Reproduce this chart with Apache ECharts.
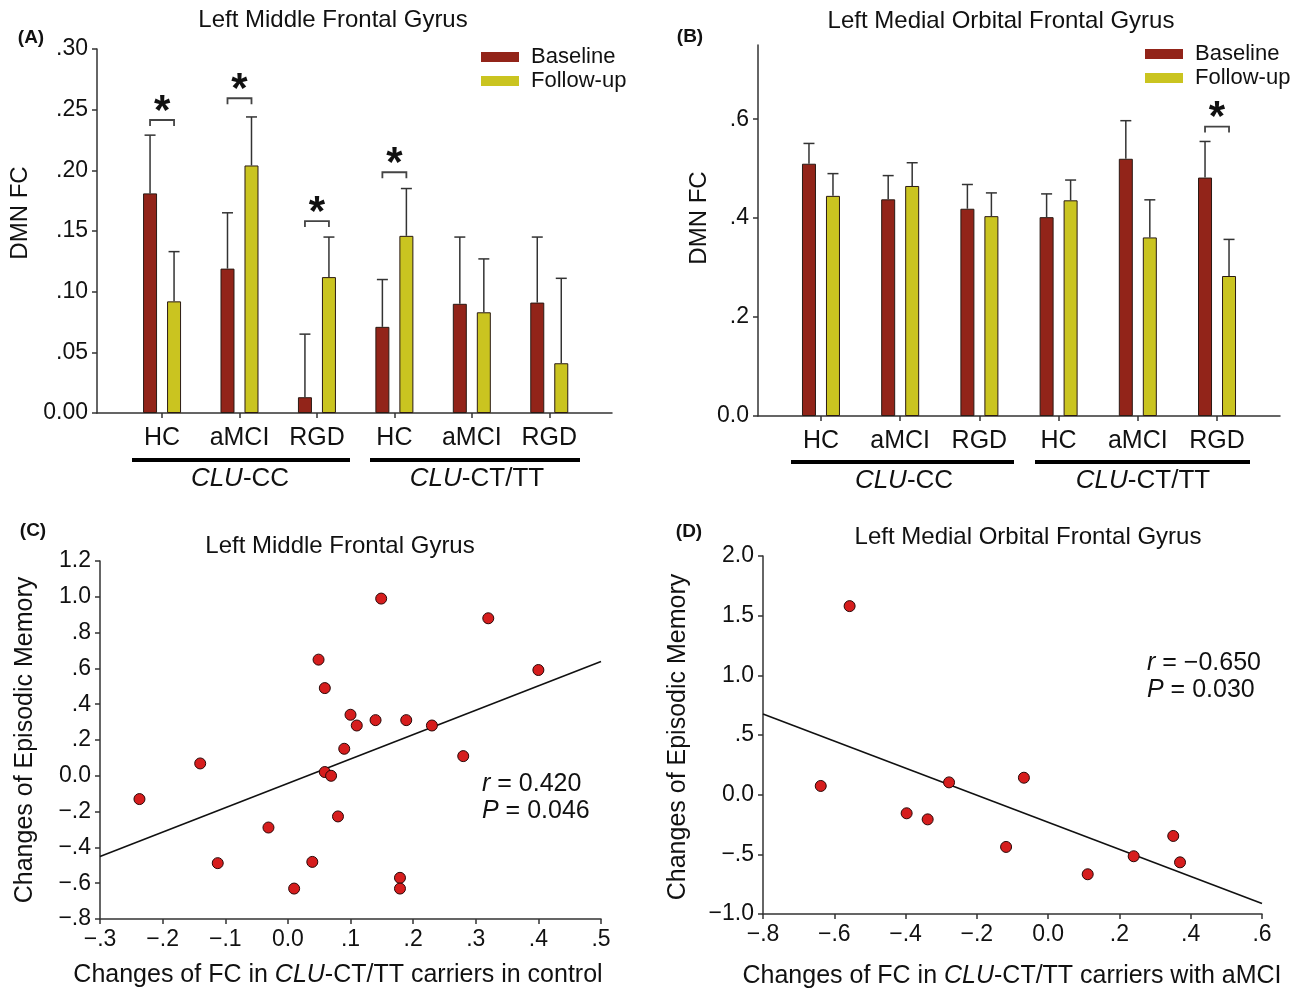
<!DOCTYPE html>
<html><head><meta charset="utf-8">
<script src="https://cdn.jsdelivr.net/npm/echarts@6/dist/echarts.min.js"></script>
<style>html,body{margin:0;padding:0;background:#fff}#c{width:1298px;height:991px}</style>
</head><body><div id="c"></div><script>
// ---------- DATA ----------
const groups = ['HC','aMCI','RGD','HC','aMCI','RGD'];
const groupIndex = [0,1,2,3,4,5];
// Panel A: Left Middle Frontal Gyrus
const mfgBaseline    = [0.181, 0.119, 0.013, 0.071, 0.090, 0.091];
const mfgBaselineErr = [0.048, 0.046, 0.052, 0.039, 0.055, 0.054];
const mfgFollowup    = [0.092, 0.204, 0.112, 0.146, 0.083, 0.041];
const mfgFollowupErr = [0.041, 0.040, 0.033, 0.039, 0.044, 0.070];
const mfgSigGroups   = [0, 1, 2, 3];
const mfgSigLevel    = [0.2415, 0.2594, 0.1582, 0.1984];
// Panel B: Left Medial Orbital Frontal Gyrus
const mofgBaseline    = [0.510, 0.438, 0.419, 0.402, 0.520, 0.482];
const mofgBaselineErr = [0.041, 0.048, 0.049, 0.047, 0.077, 0.073];
const mofgFollowup    = [0.445, 0.465, 0.404, 0.436, 0.361, 0.283];
const mofgFollowupErr = [0.045, 0.047, 0.047, 0.041, 0.076, 0.074];
const mofgSigGroups   = [5];
const mofgSigLevel    = [0.585];
// Panel C scatter
const cX = [-0.237,-0.140,-0.112,-0.031,0.010,0.039,0.049,0.059,0.059,0.069,0.080,0.090,0.100,0.110,0.140,0.149,0.179,0.179,0.189,0.230,0.280,0.320,0.400];
const cY = [-0.130,0.069,-0.488,-0.289,-0.630,-0.481,0.649,0.490,0.021,0.000,-0.227,0.151,0.341,0.281,0.311,0.990,-0.570,-0.630,0.311,0.281,0.110,0.880,0.591];
const cFitX = [-0.3, 0.5];
const cFitY = [-0.451, 0.639];
// Panel D scatter
const dX = [-0.638,-0.557,-0.397,-0.338,-0.278,-0.118,-0.068,0.111,0.240,0.351,0.370];
const dY = [0.073,1.580,-0.156,-0.207,0.103,-0.438,0.142,-0.667,-0.516,-0.346,-0.567];
const dFitX = [-0.8, 0.6];
const dFitY = [0.675, -0.913];
// Tick values and labels
const aYTicks = [0, 0.05, 0.10, 0.15, 0.20, 0.25, 0.30];
const aYLabels = ['0.00', '.05', '.10', '.15', '.20', '.25', '.30'];
const bYTicks = [0, 0.2, 0.4, 0.6];
const bYLabels = ['0.0', '.2', '.4', '.6'];
const cXTicks = [-0.3,-0.2,-0.1,0,0.1,0.2,0.3,0.4,0.5];
const cXLabels = ['\u2212.3','\u2212.2','\u2212.1','0.0','.1','.2','.3','.4','.5'];
const cYTicks = [-0.8,-0.6,-0.4,-0.2,0,0.2,0.4,0.6,0.8,1.0,1.2];
const cYLabels = ['\u2212.8','\u2212.6','\u2212.4','\u2212.2','0.0','.2','.4','.6','.8','1.0','1.2'];
const dXTicks = [-0.8,-0.6,-0.4,-0.2,0,0.2,0.4,0.6];
const dXLabels = ['\u2212.8','\u2212.6','\u2212.4','\u2212.2','0.0','.2','.4','.6'];
const dYTicks = [-1.0,-0.5,0,0.5,1.0,1.5,2.0];
const dYLabels = ['\u22121.0','\u2212.5','0.0','.5','1.0','1.5','2.0'];

// ---------- STYLE ----------
const FF = '"Liberation Sans", Arial, Helvetica, sans-serif';
const RED = '#922419', YEL = '#cac420', INK = '#111';
const AX = '#333';
const barW = 14, gapPx = 10;
const off = (barW + gapPx) / 2;

function lookup(ticks, labels) {
  return function (v) {
    let best = 0, bd = Infinity;
    ticks.forEach((t, i) => { const d = Math.abs(t - v); if (d < bd) { bd = d; best = i; } });
    return labels[best];
  };
}
function valueAxis(gi, min, max, ticks, labels, extra) {
  return Object.assign({
    type: 'value', gridIndex: gi, min: min, max: max,
    axisLine: { show: true, onZero: false, lineStyle: { color: AX, width: 1.5 } },
    axisTick: { show: true, length: 5, customValues: ticks, lineStyle: { color: AX, width: 1.5 } },
    axisLabel: { customValues: ticks, formatter: lookup(ticks, labels), fontSize: 23, fontFamily: FF, color: INK, margin: 9 },
    splitLine: { show: false }
  }, extra || {});
}
function catAxis(gi, min, max) {
  return {
    type: 'value', gridIndex: gi, min: min, max: max,
    axisLine: { show: true, onZero: false, lineStyle: { color: AX, width: 1.5 } },
    axisTick: { show: true, length: 5, customValues: groupIndex, lineStyle: { color: AX, width: 1.5 } },
    axisLabel: { customValues: groupIndex, formatter: lookup(groupIndex, groups), fontSize: 25, fontFamily: FF, color: INK, margin: 13 },
    splitLine: { show: false }
  };
}
function errSeries(name, axisI, means, errs, sign) {
  return {
    type: 'custom', name: name, xAxisIndex: axisI, yAxisIndex: axisI, z: 5,
    data: means.map((m, i) => [groupIndex[i], m, m + errs[i]]),
    encode: { x: 0, y: 1 },
    renderItem: function (params, api) {
      const p1 = api.coord([api.value(0), api.value(1)]);
      const p2 = api.coord([api.value(0), api.value(2)]);
      const cx = p1[0] + sign * off;
      const st = { stroke: '#333', lineWidth: 1.5 };
      return { type: 'group', children: [
        { type: 'line', shape: { x1: cx, y1: p1[1], x2: cx, y2: p2[1] }, style: st },
        { type: 'line', shape: { x1: cx - 5.5, y1: p2[1], x2: cx + 5.5, y2: p2[1] }, style: st }
      ] };
    }
  };
}
function sigSeries(axisI, gs, lv) {
  return {
    type: 'custom', name: 'sig' + axisI, xAxisIndex: axisI, yAxisIndex: axisI, z: 6,
    data: gs.map((g, i) => [g, lv[i]]),
    encode: { x: 0, y: 1 },
    renderItem: function (params, api) {
      const p = api.coord([api.value(0), api.value(1)]);
      const l = p[0] - off, r = p[0] + off;
      return { type: 'group', children: [
        { type: 'polyline', shape: { points: [[l, p[1] + 6], [l, p[1]], [r, p[1]], [r, p[1] + 6]] },
          style: { stroke: '#444', lineWidth: 1.8, fill: null } },
        { type: 'text', x: p[0], y: p[1] - 8,
          style: { text: '*', fontSize: 42, fontWeight: 'bold', fontFamily: FF, fill: INK, align: 'center', verticalAlign: 'middle' } }
      ] };
    }
  };
}
function barSeries(name, axisI, vals, color) {
  return {
    type: 'bar', name: name, xAxisIndex: axisI, yAxisIndex: axisI,
    data: vals.map((v, i) => [groupIndex[i], v]),
    barWidth: barW, barGap: (gapPx / barW * 100) + '%',
    itemStyle: { color: color, borderColor: '#2a1a14', borderWidth: 1 },
    emphasis: { disabled: true }
  };
}
function scatterSeries(axisI, xs, ys) {
  return {
    type: 'scatter', xAxisIndex: axisI, yAxisIndex: axisI, z: 4,
    data: xs.map((x, i) => [x, ys[i]]), symbolSize: 11,
    itemStyle: { color: '#d61d1d', borderColor: '#2a0808', borderWidth: 1, opacity: 1 }
  };
}
function fitSeries(axisI, xs, ys) {
  return {
    type: 'line', xAxisIndex: axisI, yAxisIndex: axisI, z: 3, symbol: 'none',
    data: xs.map((x, i) => [x, ys[i]]),
    lineStyle: { color: '#111', width: 1.6 }
  };
}
const T = (x, y, text, size, extra) => ({
  type: 'text', x: x, y: y,
  style: Object.assign({ text: text, fontSize: size, fontFamily: FF, fill: INK, align: 'center', verticalAlign: 'middle' }, extra || {})
});
const richItal = (size) => ({ i: { fontSize: size, fontFamily: FF, fontStyle: 'italic', fill: INK }, n: { fontSize: size, fontFamily: FF, fill: INK } });
const RT = (x, y, text, size, align, rot) => ({
  type: 'text', x: x, y: y, rotation: rot || 0,
  style: { text: text, rich: richItal(size), fontSize: size, fontFamily: FF, fill: INK, align: align || 'center', verticalAlign: 'middle' }
});
const bar = (x1, x2, y) => ({ type: 'rect', shape: { x: x1, y: y - 2, width: x2 - x1, height: 4 }, style: { fill: '#000' } });

const legendBase = {
  data: ['Baseline', 'Follow-up'], orient: 'vertical', icon: 'rect', padding: 0,
  itemWidth: 38, itemHeight: 10, itemGap: 2, selectedMode: false,
  itemStyle: { borderWidth: 0 },
  textStyle: { fontSize: 22, fontFamily: FF, color: INK, padding: [0, 0, 0, 7] }
};

const option = {
  animation: false,
  backgroundColor: '#fff',
  grid: [
    { left: 97, top: 49, width: 515, height: 364 },
    { left: 758, top: 45, width: 522, height: 371 },
    { left: 100, top: 561, width: 501, height: 358 },
    { left: 763, top: 556, width: 499, height: 358 }
  ],
  xAxis: [
    catAxis(0, -0.84, 5.81),
    catAxis(1, -0.795, 5.795),
    valueAxis(2, -0.3, 0.5, cXTicks, cXLabels, {}),
    valueAxis(3, -0.8, 0.6, dXTicks, dXLabels, {})
  ],
  yAxis: [
    valueAxis(0, 0, 0.30, aYTicks, aYLabels),
    valueAxis(1, 0, 0.75, bYTicks, bYLabels),
    valueAxis(2, -0.8, 1.2, cYTicks, cYLabels),
    valueAxis(3, -1.0, 2.0, dYTicks, dYLabels)
  ],
  legend: [
    Object.assign({}, legendBase, { left: 481, top: 46 }),
    Object.assign({}, legendBase, { left: 1145, top: 43 })
  ],
  series: [
    barSeries('Baseline', 0, mfgBaseline, RED),
    barSeries('Follow-up', 0, mfgFollowup, YEL),
    errSeries('errA1', 0, mfgBaseline, mfgBaselineErr, -1),
    errSeries('errA2', 0, mfgFollowup, mfgFollowupErr, 1),
    sigSeries(0, mfgSigGroups, mfgSigLevel),
    barSeries('Baseline', 1, mofgBaseline, RED),
    barSeries('Follow-up', 1, mofgFollowup, YEL),
    errSeries('errB1', 1, mofgBaseline, mofgBaselineErr, -1),
    errSeries('errB2', 1, mofgFollowup, mofgFollowupErr, 1),
    sigSeries(1, mofgSigGroups, mofgSigLevel),
    fitSeries(2, cFitX, cFitY),
    scatterSeries(2, cX, cY),
    fitSeries(3, dFitX, dFitY),
    scatterSeries(3, dX, dY)
  ],
  graphic: [
    T(31, 38, '(A)', 19, { fontWeight: 'bold' }),
    T(690, 37, '(B)', 19, { fontWeight: 'bold' }),
    T(33, 531, '(C)', 19, { fontWeight: 'bold' }),
    T(689, 532, '(D)', 19, { fontWeight: 'bold' }),
    T(333, 20, 'Left Middle Frontal Gyrus', 24),
    T(1001, 21, 'Left Medial Orbital Frontal Gyrus', 24),
    T(340, 546, 'Left Middle Frontal Gyrus', 24),
    T(1028, 537, 'Left Medial Orbital Frontal Gyrus', 24),
    Object.assign(T(20, 213, 'DMN FC', 24), { rotation: Math.PI / 2 }),
    Object.assign(T(699, 218, 'DMN FC', 24), { rotation: Math.PI / 2 }),
    Object.assign(T(25, 740, 'Changes of Episodic Memory', 25), { rotation: Math.PI / 2 }),
    Object.assign(T(678, 737, 'Changes of Episodic Memory', 25), { rotation: Math.PI / 2 }),
    bar(132, 350, 460), bar(370, 580, 460),
    bar(791, 1014, 462), bar(1035, 1250, 462),
    RT(240, 479, '{i|CLU}{n|-CC}', 26),
    RT(477, 479, '{i|CLU}{n|-CT/TT}', 26),
    RT(904, 481, '{i|CLU}{n|-CC}', 26),
    RT(1143, 481, '{i|CLU}{n|-CT/TT}', 26),
    RT(338, 975, '{n|Changes of FC in }{i|CLU}{n|-CT/TT carriers in control}', 25),
    RT(1012, 976, '{n|Changes of FC in }{i|CLU}{n|-CT/TT carriers with aMCI}', 25),
    RT(482, 784, '{i|r}{n| = 0.420}', 25, 'left'),
    RT(482, 811, '{i|P}{n| = 0.046}', 25, 'left'),
    RT(1147, 663, '{i|r}{n| = \u22120.650}', 25, 'left'),
    RT(1147, 690, '{i|P}{n| = 0.030}', 25, 'left')
  ]
};
const chart = echarts.init(document.getElementById('c'));
chart.setOption(option);
</script></body></html>
